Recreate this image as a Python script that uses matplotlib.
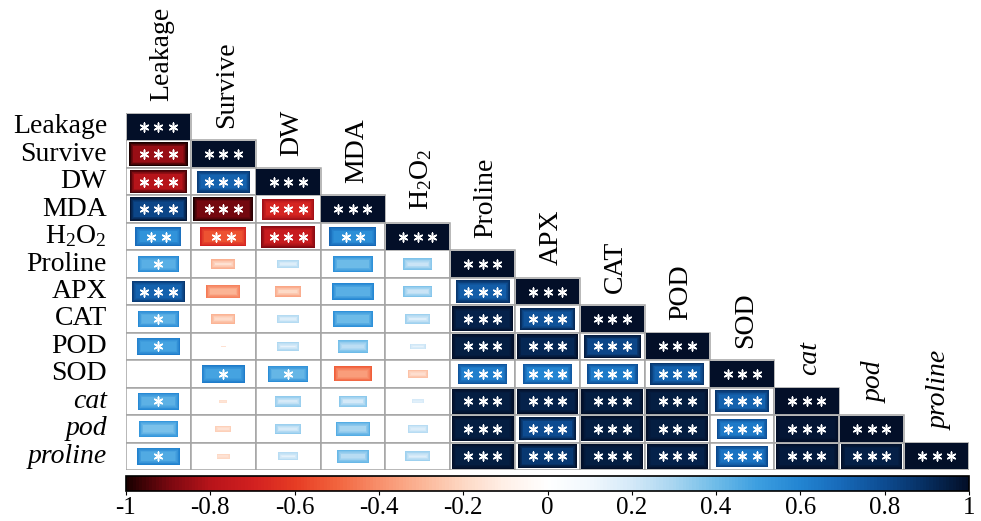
import numpy as np
import matplotlib
matplotlib.use('Agg')
import matplotlib.pyplot as plt
from matplotlib.patches import Rectangle
from matplotlib.colors import LinearSegmentedColormap, Normalize
import matplotlib.colorbar as mcolorbar

plt.rcParams['font.family'] = 'Liberation Serif'
plt.rcParams['mathtext.fontset'] = 'custom'
plt.rcParams['mathtext.rm'] = 'Liberation Serif'
plt.rcParams['mathtext.it'] = 'Liberation Serif:italic'

labels = ['Leakage', 'Survive', 'DW', 'MDA', 'H$_2$O$_2$', 'Proline', 'APX',
          'CAT', 'POD', 'SOD', 'cat', 'pod', 'proline']
italic = ['cat', 'pod', 'proline']

# lower triangle of the correlation matrix, one list per row
r_leakage = [1]
r_survive = [-0.85, 1]
r_dw = [-0.80, 0.72, 1]
r_mda = [0.82, -0.90, -0.68, 1]
r_h2o2 = [0.54, -0.54, -0.74, 0.56, 1]
r_proline = [0.44, -0.16, 0.14, 0.40, 0.22, 1]
r_apx = [0.72, -0.30, -0.19, 0.44, 0.22, 0.74, 1]
r_cat = [0.43, -0.15, 0.14, 0.40, 0.17, 0.93, 0.78, 1]
r_pod = [0.48, -0.01, 0.14, 0.25, 0.07, 0.95, 0.92, 0.82, 1]
r_sod = [0.005, 0.48, 0.42, -0.36, -0.11, 0.62, 0.60, 0.64, 0.72, 1]
r_cat_g = [0.43, -0.02, 0.19, 0.20, 0.04, 0.95, 0.93, 0.95, 0.95, 0.72, 1]
r_pod_g = [0.38, -0.07, 0.19, 0.30, 0.11, 0.95, 0.80, 0.95, 0.95, 0.64, 0.97, 1]
r_proline_g = [0.46, -0.05, 0.11, 0.26, 0.17, 0.95, 0.86, 0.95, 0.93, 0.66, 0.96, 0.94, 1]

# number of significance stars for each cell
s_leakage = [3]
s_survive = [3, 3]
s_dw = [3, 3, 3]
s_mda = [3, 3, 3, 3]
s_h2o2 = [2, 2, 3, 2, 3]
s_proline = [1, 0, 0, 0, 0, 3]
s_apx = [3, 0, 0, 0, 0, 3, 3]
s_cat = [1, 0, 0, 0, 0, 3, 3, 3]
s_pod = [1, 0, 0, 0, 0, 3, 3, 3, 3]
s_sod = [0, 1, 1, 0, 0, 3, 3, 3, 3, 3]
s_cat_g = [1, 0, 0, 0, 0, 3, 3, 3, 3, 3, 3]
s_pod_g = [0, 0, 0, 0, 0, 3, 3, 3, 3, 3, 3, 3]
s_proline_g = [1, 0, 0, 0, 0, 3, 3, 3, 3, 3, 3, 3, 3]

corr = [r_leakage, r_survive, r_dw, r_mda, r_h2o2, r_proline, r_apx,
        r_cat, r_pod, r_sod, r_cat_g, r_pod_g, r_proline_g]
stars = [s_leakage, s_survive, s_dw, s_mda, s_h2o2, s_proline, s_apx,
         s_cat, s_pod, s_sod, s_cat_g, s_pod_g, s_proline_g]

cbar_ticks = [-1, -0.8, -0.6, -0.4, -0.2, 0, 0.2, 0.4, 0.6, 0.8, 1]

nodes = [(-1.0, '#1a0000'), (-0.9, '#7a0810'), (-0.8, '#b8141a'),
         (-0.7, '#d22020'), (-0.6, '#e63c24'), (-0.5, '#f2643e'),
         (-0.4, '#f8906c'), (-0.3, '#fbb596'), (-0.2, '#fdd8c4'),
         (-0.1, '#fff0e8'), (0.0, '#ffffff'), (0.1, '#f2f8fd'),
         (0.2, '#d4e9f8'), (0.3, '#a8d5f0'), (0.4, '#6fbce8'),
         (0.5, '#3c9ee0'), (0.6, '#2385d2'), (0.7, '#1769b8'),
         (0.8, '#0d4c92'), (0.9, '#062e60'), (1.0, '#030f28')]
cmap = LinearSegmentedColormap.from_list(
    'corr', [((v + 1) / 2, c) for v, c in nodes])
norm = Normalize(-1, 1)

W, H = 981, 521
fig = plt.figure(figsize=(W / 100, H / 100), dpi=100)
x0, x1, y0, y1 = 126, 969, 113, 470
ax = fig.add_axes([x0 / W, 1 - y1 / H, (x1 - x0) / W, (y1 - y0) / H])
n = len(labels)
ax.set_xlim(0, n)
ax.set_ylim(n, 0)
ax.axis('off')

px_x = n / (x1 - x0)   # data units per pixel
px_y = n / (y1 - y0)

for i in range(n):
    for j in range(i + 1):
        r = corr[i][j]
        # grey cell frame
        ax.add_patch(Rectangle((j, i), 1, 1, facecolor='white',
                               edgecolor='#a4a4a4', lw=1.1, zorder=1))
        side = np.sqrt(abs(r))
        w = max(side - 1.5 * px_x, 0)
        h = max(side - 1.5 * px_y, 0)
        if w <= 0 or h <= 0:
            continue
        base = cmap(norm(r))
        edge = cmap(norm(np.clip(r + np.sign(r) * 0.15, -1, 1)))
        # darker rim fading into the cell colour
        steps = 7
        for k in range(steps):
            t = k / (steps - 1)
            c = tuple(np.array(edge) * (1 - t) + np.array(base) * t)
            dx = k * 0.7 * px_x
            dy = k * 0.7 * px_y
            ww, hh = w - 2 * dx, h - 2 * dy
            if ww <= 0 or hh <= 0:
                break
            ax.add_patch(Rectangle((j + 0.5 - ww / 2, i + 0.5 - hh / 2), ww, hh,
                                   facecolor=c, edgecolor='none', zorder=2 + k))
        ns = stars[i][j]
        if ns:
            gap = 14.5 * px_x
            xs = j + 0.5 + (np.arange(ns) - (ns - 1) / 2) * gap
            ax.scatter(xs, [i + 0.5] * ns, marker=(6, 2, 0), s=40,
                       color='white', linewidths=1.1, zorder=20)

# row labels on the left, column labels above the diagonal
for i, lab in enumerate(labels):
    style = 'italic' if lab in italic else 'normal'
    ax.text(-19 * px_x, i + 0.5, lab, ha='right', va='center',
            fontsize=20, style=style)
    ax.text(i + 0.55, i - 0.45, lab, ha='center', va='bottom', rotation=90,
            fontsize=20, style=style)

cax = fig.add_axes([x0 / W, 1 - 491 / H, (x1 - x0) / W, 15 / H])
cb = mcolorbar.ColorbarBase(cax, cmap=cmap, norm=norm, orientation='horizontal',
                            ticks=cbar_ticks)
cb.set_ticklabels(['%g' % t for t in cbar_ticks])
cb.outline.set_linewidth(1.2)
cax.tick_params(labelsize=18, length=3, width=0.8, pad=1)

fig.savefig('out.png', dpi=100)
